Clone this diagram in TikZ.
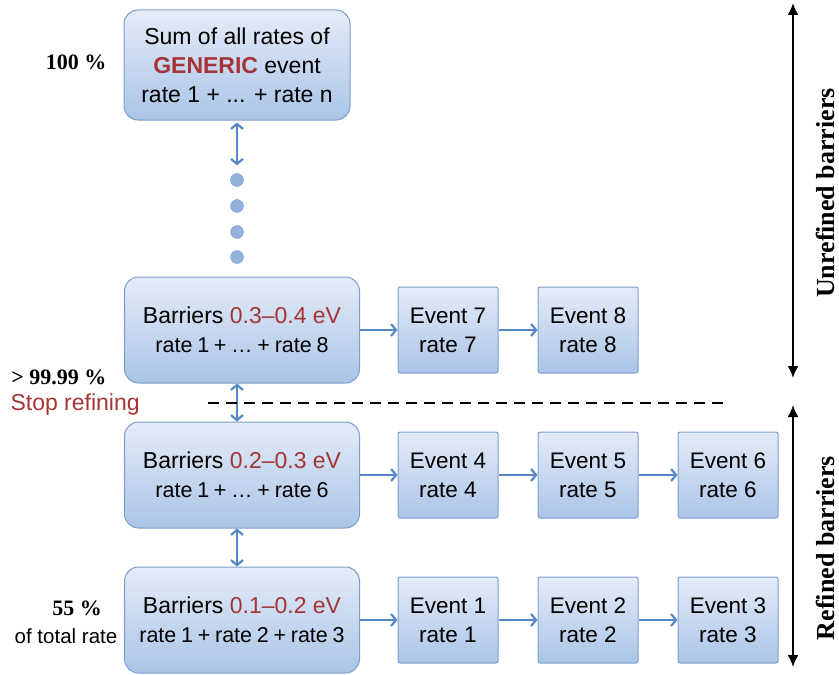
\documentclass[tikz,border=0pt]{standalone}
\usepackage{fontspec}
\setmainfont{Liberation Serif}
\newfontfamily\helv{Liberation Sans}
\usepackage{tikz}
\usetikzlibrary{arrows.meta, positioning, calc}

\definecolor{boxtop}{RGB}{228,236,248}
\definecolor{boxbot}{RGB}{170,196,231}
\definecolor{boxline}{RGB}{124,158,207}
\definecolor{flowblue}{RGB}{86,136,198}
\definecolor{barred}{RGB}{166,52,54}

% sum line, a bit smaller with narrow spaces
\newcommand{\rateline}[1]{{\fontsize{21.5bp}{29bp}\selectfont\spaceskip=0.22em\relax #1}}

\begin{document}
\begin{tikzpicture}[x=1bp, y=-1bp,
  bigbox/.style={draw=boxline, line width=1bp, rounded corners=14bp, top color=boxtop, bottom color=boxbot, minimum width=235bp, minimum height=106bp, inner sep=0pt, align=center, font=\helv\fontsize{23bp}{29bp}\selectfont},
  eventbox/.style={draw=boxline, line width=1bp, rounded corners=2bp, top color=boxtop, bottom color=boxbot, minimum width=100bp, minimum height=86bp, inner sep=0pt, align=center, font=\helv\fontsize{22.5bp}{29bp}\selectfont},
  flow/.style={draw=flowblue, line width=2.2bp, -{Straight Barb[length=5bp, width=12bp]}},
  bothflow/.style={flow, {Straight Barb[length=5bp, width=12bp]}-{Straight Barb[length=5bp, width=12bp]}},
  sidearrow/.style={line width=2bp, {Latex[length=12bp, width=11bp]}-{Latex[length=12bp, width=11bp]}},
  sidelabel/.style={rotate=90, inner sep=0pt, font=\bfseries\fontsize{26bp}{30bp}\selectfont},
  pct/.style={font=\bfseries\fontsize{22bp}{26bp}\selectfont},
  dot/.style={circle, draw=flowblue!80, fill=flowblue!65, minimum size=13bp, inner sep=0pt}
]
  \useasboundingbox (0,0) rectangle (839,675);

  % Generic event and the refining dots
  \node[bigbox, minimum width=226bp, minimum height=110bp] (generic) at (237,65) {Sum of all rates of\\ {\color{barred}\bfseries GENERIC} event\\ rate 1 + ... + rate n};
  \node[dot] (d1) at (237,180) {};
  \node[dot] (d2) at (237,206) {};
  \node[dot] (d3) at (237,232) {};
  \node[dot] (d4) at (237,257) {};

  % Barrier groups
  \node[bigbox] (b34) at (242,330) {Barriers {\color{barred}0.3–0.4 eV}\\ \rateline{rate 1 + … + rate 8}};
  \node[bigbox] (b23) at (242,475) {Barriers {\color{barred}0.2–0.3 eV}\\ \rateline{rate 1 + … + rate 6}};
  \node[bigbox] (b12) at (242,620) {Barriers {\color{barred}0.1–0.2 eV}\\ \rateline{rate 1 + rate 2 + rate 3}};

  % Events
  \node[eventbox] (ev7) at (448,330) {Event 7\\ rate 7};
  \node[eventbox] (ev8) at (588,330) {Event 8\\ rate 8};
  \node[eventbox] (ev4) at (448,475) {Event 4\\ rate 4};
  \node[eventbox] (ev5) at (588,475) {Event 5\\ rate 5};
  \node[eventbox] (ev6) at (728,475) {Event 6\\ rate 6};
  \node[eventbox] (ev1) at (448,620) {Event 1\\ rate 1};
  \node[eventbox] (ev2) at (588,620) {Event 2\\ rate 2};
  \node[eventbox] (ev3) at (728,620) {Event 3\\ rate 3};

  % Left labels
  \node[pct, anchor=east] (p100) at (110,62) {100 \%};
  \node[pct, anchor=east] (p9999) at (110,377) {> 99.99 \%};
  \node[anchor=west, text=barred, font=\helv\fontsize{23bp}{27bp}\selectfont] (stop) at (7,405) {Stop refining};
  \node[pct] (p55) at (77,608) {55 \%};
  \node[font=\helv\fontsize{20.5bp}{24bp}\selectfont] (oftotal) at (66,636) {of total rate};

  % Arrows
  \draw[bothflow, shorten <=2bp, shorten >=8bp] (generic) -- (d1);
  \draw[bothflow] (b34.south -| generic) -- (b23.north -| generic);
  \draw[bothflow] (b23.south -| generic) -- (b12.north -| generic);
  \draw[flow] (b34) -- (ev7);
  \draw[flow] (ev7) -- (ev8);
  \draw[flow] (b23) -- (ev4);
  \draw[flow] (ev4) -- (ev5);
  \draw[flow] (ev5) -- (ev6);
  \draw[flow] (b12) -- (ev1);
  \draw[flow] (ev1) -- (ev2);
  \draw[flow] (ev2) -- (ev3);

  % Stop line
  \coordinate (stopL) at (208,403);
  \coordinate (stopR) at (730,403);
  \draw[line width=1.8bp, dash pattern=on 11bp off 7bp] (stopL) -- (stopR);

  % Side ranges
  \coordinate (unrefTop) at (793,3);
  \coordinate (unrefBot) at (793,378);
  \coordinate (refTop) at (793,405);
  \coordinate (refBot) at (793,667);
  \draw[sidearrow] (unrefTop) -- (unrefBot);
  \draw[sidearrow] (refTop) -- (refBot);
  \node[sidelabel] (unref) at (825,193) {Unrefined barriers};
  \node[sidelabel] (ref) at (825,548) {Refined barriers};
\end{tikzpicture}
\end{document}
